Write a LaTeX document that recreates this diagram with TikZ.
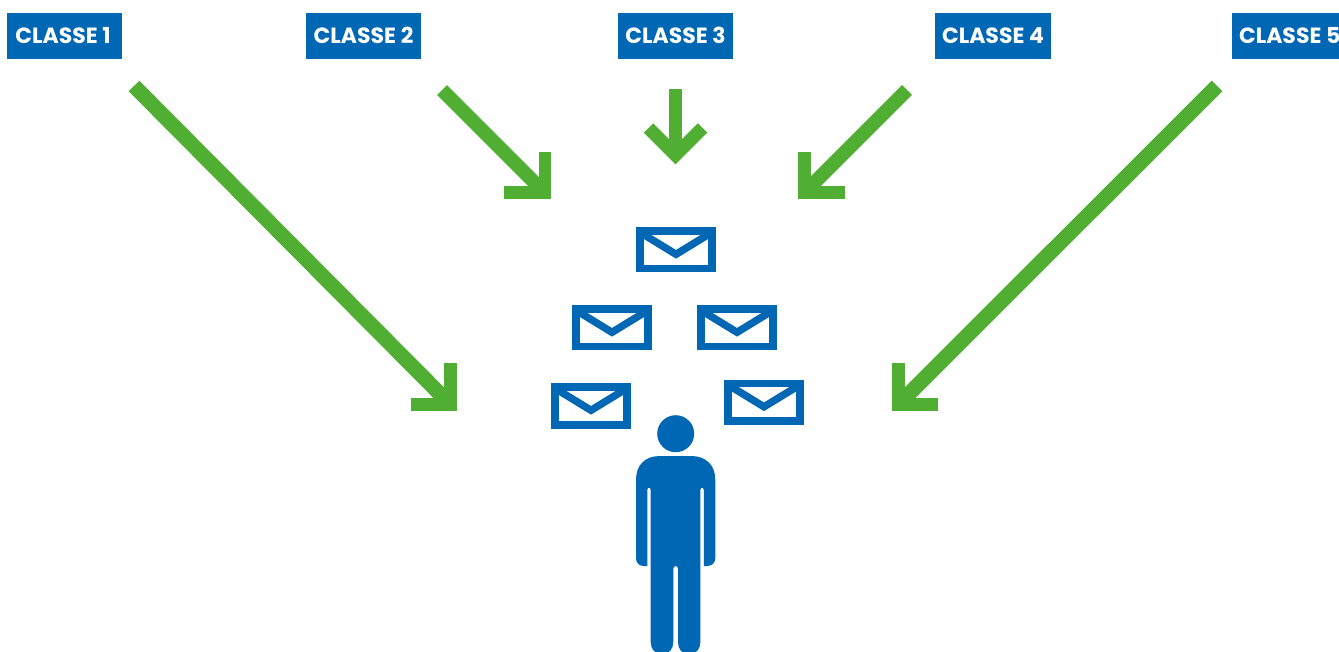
\documentclass[tikz,border=0pt]{standalone}
\usepackage{fontspec}
\setmainfont{Poppins}
\usetikzlibrary{calc}
\definecolor{cblue}{HTML}{0067B4}
\definecolor{cgreen}{HTML}{50AE32}
\tikzset{
  classlabel/.style={fill=cblue,text=white,inner sep=0pt,minimum width=115.5pt,minimum height=45.5pt,text height=15.4pt,text depth=1.4pt,font=\fontsize{22}{22}\selectfont\bfseries},
  shaft/.style={draw=cgreen,line width=15pt},
  arrowarm/.style={draw=cgreen,line width=12.6pt,miter limit=10},
  pics/envelope/.style={code={
    \draw[cblue,line width=7.6pt] (3.8,3.8) rectangle (76.2,41.7);
    \draw[cblue,line width=7.4pt,line join=miter] (3.5,5) -- (40,27.3) -- (76.5,5);
  }}
}
\begin{document}
\begin{tikzpicture}[x=1pt,y=-1pt]
\useasboundingbox (0,0) rectangle (1339,652);
\fill[white] (0,0) rectangle (1339,652);
% labels
\node[classlabel] (c1) at (64.5,36.2) {\makebox[115.5pt]{\hspace{-3pt}CLASSE 1}};
\node[classlabel] (c2) at (363.5,36.2) {CLASSE 2};
\node[classlabel] (c3) at (675.5,36.2) {CLASSE 3};
\node[classlabel] (c4) at (993,36.2) {CLASSE 4};
\node[classlabel] (c5) at (1289.7,36.2) {CLASSE 5};
% arrow ends
\coordinate (s1) at (134,86);
\coordinate (h1) at (450.5,404.5);
\coordinate (s2) at (442,90);
\coordinate (h2) at (544.8,192.8);
\coordinate (s3) at (675.5,89);
\coordinate (h3) at (675.5,155);
\coordinate (s4) at (907,90);
\coordinate (h4) at (804.2,192.8);
\coordinate (s5) at (1217,86);
\coordinate (h5) at (898.2,404.5);
% arrows
\draw[shaft] (s1) -- (h1);
\draw[arrowarm] ($(h1)+(0,-41.2)$) -- (h1) -- ($(h1)+(-40,0)$);
\draw[shaft,line width=14pt] (s2) -- (h2);
\draw[arrowarm] ($(h2)+(0,-41)$) -- (h2) -- ($(h2)+(-41,0)$);
\draw[shaft,line width=12.7pt] (s3) -- ($(h3)+(0,-2)$);
\draw[arrowarm,line width=13.4pt] ($(h3)+(-27,-27)$) -- (h3) -- ($(h3)+(27,-27)$);
\draw[shaft,line width=14pt] (s4) -- (h4);
\draw[arrowarm] ($(h4)+(0,-41)$) -- (h4) -- ($(h4)+(41,0)$);
\draw[shaft] (s5) -- (h5);
\draw[arrowarm] ($(h5)+(0,-41.5)$) -- (h5) -- ($(h5)+(40,0)$);
% envelopes
\pic at (636,227) {envelope};
\pic at (572,305) {envelope};
\pic at (697,305) {envelope};
\pic at (551,383) {envelope};
\pic at (724,379.5) {envelope};
% person
\fill[cblue] (675.7,433.7) circle[radius=18.5];
\fill[cblue] (636,480)
  .. controls (636,465) and (645,456) .. (660,456)
  -- (691,456)
  .. controls (706,456) and (715.3,465) .. (715.3,480)
  -- (715.3,558)
  .. controls (715.3,563) and (712,566) .. (707,566)
  -- (703.8,566) -- (703.8,490)
  .. controls (703.8,487) and (700.4,487) .. (700.4,490)
  -- (700.4,642)
  .. controls (700.4,649) and (696,654) .. (690,654)
  -- (688,654)
  .. controls (682,654) and (678,649) .. (678,642)
  -- (678,569)
  .. controls (678,565) and (673.3,565) .. (673.3,569)
  -- (673.3,642)
  .. controls (673.3,649) and (669,654) .. (663,654)
  -- (661,654)
  .. controls (655,654) and (650.7,649) .. (650.7,642)
  -- (650.7,490)
  .. controls (650.7,487) and (647.3,487) .. (647.3,490)
  -- (647.3,566) -- (644,566)
  .. controls (639,566) and (636,563) .. (636,558)
  -- cycle;
\end{tikzpicture}
\end{document}
